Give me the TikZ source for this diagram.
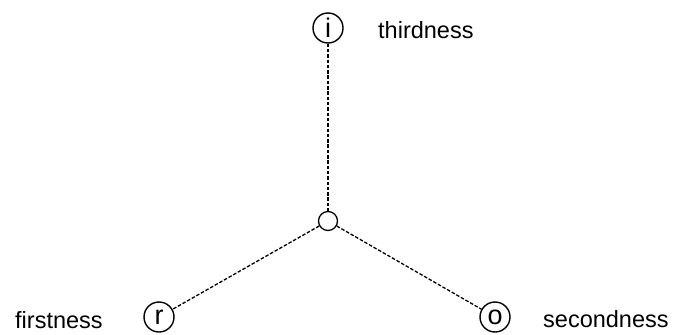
\documentclass[tikz,border=0pt]{standalone}
\usepackage{fontspec}
\setmainfont{Liberation Sans}
\begin{document}
\begin{tikzpicture}[x=1pt,y=-1pt,
  letter/.style={circle,draw,line width=1.4pt,minimum size=30pt,inner sep=0pt,font=\fontsize{27}{27}\selectfont},
  hub/.style={circle,draw,line width=1.3pt,minimum size=19pt,inner sep=0pt},
  conn/.style={line width=1.3pt,dash pattern=on 3.5pt off 1.8pt},
  lab/.style={anchor=base west,inner sep=0pt,font=\fontsize{23.5}{28}\selectfont}]
\useasboundingbox (0,0) rectangle (676,334);
\node[letter] (i) at (328,28) {i};
\node[hub] (c) at (328,221) {};
\node[letter] (r) at (159,317) {r};
\node[letter] (o) at (495,317) {o};
\draw[conn] (i) -- (c);
\draw[conn] (c) -- (r);
\draw[conn] (c) -- (o);
\node[lab] (t3) at (378,39) {thirdness};
\node[lab] (t1) at (15,328) {firstness};
\node[lab] (t2) at (543,327) {secondness};
\end{tikzpicture}
\end{document}
